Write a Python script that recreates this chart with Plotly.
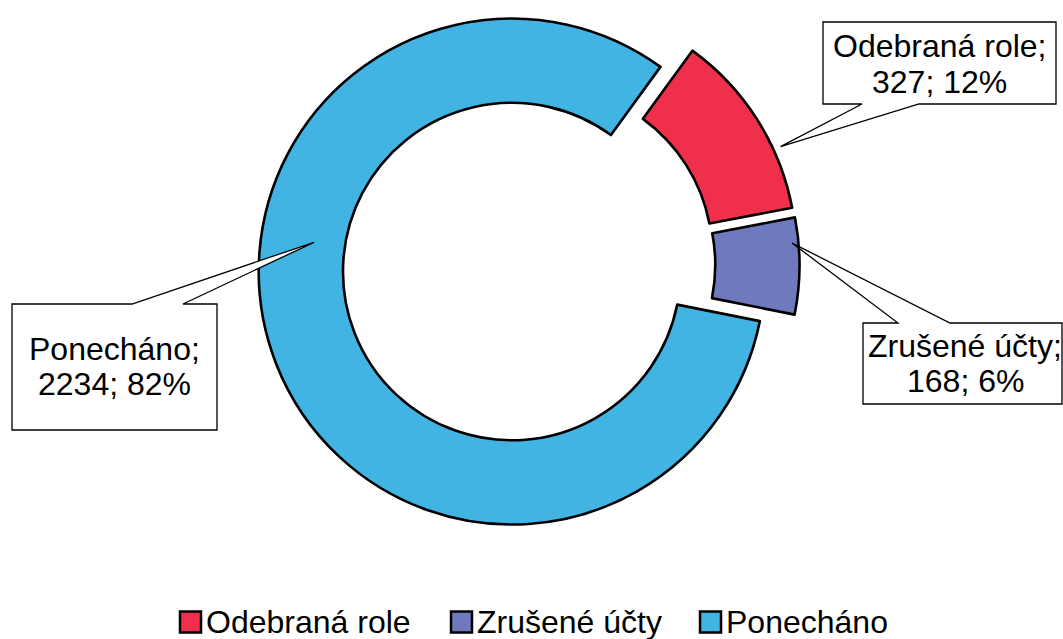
import math
import plotly.graph_objects as go

# ---- data ----
labels = ["Odebraná role", "Zrušené účty", "Ponecháno"]
values = [327, 168, 2234]
colors = ["#F0304A", "#6E79BE", "#41B4E4"]

# ---- layout constants ----
W, H = 1063, 639
FONT = "Liberation Sans, Arial, sans-serif"
FS = 32
ROTATION = 36          # first slice starts 36 deg clockwise from 12 o'clock
R = 253.0              # outer radius (px)
HOLE = 0.667
EXPLODE = 18.0         # px each slice is pulled out
CX, CY = 528.5, 265.0  # common pie centre (px from top-left)

total = sum(values)
pcts = [round(v / total * 100) for v in values]

# slice angles (degrees clockwise from 12 o'clock)
starts, spans = [], []
a = ROTATION
for v in values:
    starts.append(a)
    spans.append(v / total * 360)
    a += v / total * 360

def px(x, y):
    return x / W, 1 - y / H

fig = go.Figure()
centres = []
for i in range(len(values)):
    mid = math.radians(starts[i] + spans[i] / 2)
    sx = CX + EXPLODE * math.sin(mid)
    sy = CY - EXPLODE * math.cos(mid)
    centres.append((sx, sy))
    x0, y1 = px(sx - R, sy - R)
    x1, y0 = px(sx + R, sy + R)
    fig.add_trace(go.Pie(
        labels=labels, values=values, sort=False, direction="clockwise",
        rotation=ROTATION, hole=HOLE,
        marker=dict(
            colors=[c if j == i else "rgba(0,0,0,0)" for j, c in enumerate(colors)],
            line=dict(color="black", width=[2.6 if j == i else 0 for j in range(len(values))]),
        ),
        textinfo="none", showlegend=False, hoverinfo="label+value+percent",
        domain=dict(x=[x0, x1], y=[y0, y1]),
    ))

def tip(i, frac, rfrac):
    sx, sy = centres[i]
    ang = math.radians(starts[i] + frac * spans[i])
    return sx + rfrac * R * math.sin(ang), sy - rfrac * R * math.cos(ang)

# callouts: box (x0,y0,x1,y1), wedge side, wedge base xs, tip spec, text centre
callouts = [
    dict(box=(823, 22, 1056, 104), side="bottom", base=(862, 919), tip=(0.68, 1.03), tx=939.5, ty=(46, 82)),
    dict(box=(863, 323, 1062, 404), side="top", base=(898, 950), tip=(0.26, 0.975), tx=965, ty=(346, 381)),
    dict(box=(12, 304, 217, 430), side="top", base=(132, 183), tip=(0.601, 0.79), tx=114.5, ty=(349, 384)),
]

shapes = []
annotations = []
for i, c in enumerate(callouts):
    x0, y0, x1, y1 = c["box"]
    tx_, ty_ = tip(i, *c["tip"])
    b0, b1 = c["base"]
    if c["side"] == "top":
        pts = [(x0, y0), (b0, y0), (tx_, ty_), (b1, y0), (x1, y0), (x1, y1), (x0, y1)]
    else:
        pts = [(x0, y0), (x1, y0), (x1, y1), (b1, y1), (tx_, ty_), (b0, y1), (x0, y1)]
    path = ""
    for k, (x, y) in enumerate(pts):
        xp, yp = px(x, y)
        path += ("M" if k == 0 else "L") + f"{xp:.5f},{yp:.5f} "
    path += "Z"
    shapes.append(dict(type="path", path=path, xref="paper", yref="paper",
                       fillcolor="white", line=dict(color="black", width=1.3), layer="above"))
    lines = [f"{labels[i]};", f"{values[i]}; {pcts[i]}%"]
    for line, yy in zip(lines, c["ty"]):
        xp, yp = px(c["tx"], yy)
        annotations.append(dict(text=line, x=xp, y=yp, xref="paper", yref="paper",
                                xanchor="center", yanchor="middle", showarrow=False,
                                font=dict(family=FONT, size=FS, color="black")))

# legend (built from labels/colors)
legend_x = [180, 451, 700]
LEG_Y = 622
for lab, col, lx in zip(labels, colors, legend_x):
    xa, ya = px(lx, LEG_Y - 10.5)
    xb, yb = px(lx + 21, LEG_Y + 10.5)
    shapes.append(dict(type="rect", xref="paper", yref="paper", x0=xa, x1=xb, y0=yb, y1=ya,
                       fillcolor=col, line=dict(color="black", width=2.5)))
    xt, yt = px(lx + 24, LEG_Y)
    annotations.append(dict(text=lab, x=xt, y=yt, xref="paper", yref="paper",
                            xanchor="left", yanchor="middle", showarrow=False,
                            font=dict(family=FONT, size=FS, color="black")))

fig.update_layout(
    width=W, height=H,
    margin=dict(l=0, r=0, t=0, b=0),
    paper_bgcolor="white", plot_bgcolor="white",
    shapes=shapes, annotations=annotations,
    showlegend=False,
)

fig.write_html("out.html", config={"displayModeBar": False},
               post_script="document.body.style.margin='0';document.body.style.padding='0';")
